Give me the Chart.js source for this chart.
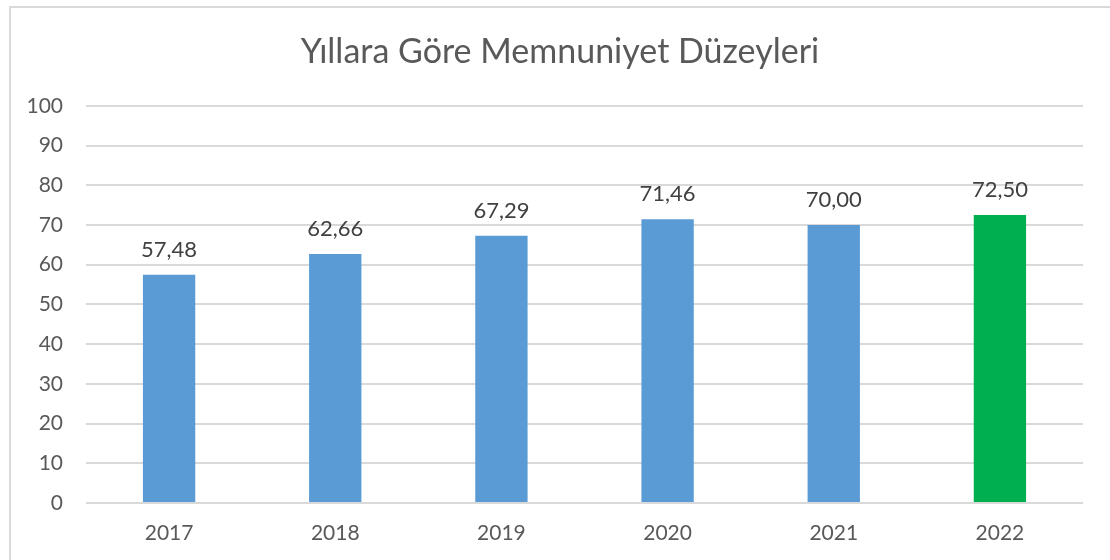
<!DOCTYPE html>
<html>
<head>
<meta charset="utf-8">
<script src="https://cdn.jsdelivr.net/npm/chart.js@4/dist/chart.umd.min.js"></script>
<style>
  body { margin: 0; background: #fff; }
  #frame { position: absolute; left: 9px; top: 6px; width: 1120px; height: 580px; border: 2px solid #d9d9d9; }
  #chart { position: absolute; left: 0; top: 0; }
</style>
</head>
<body>
<div id="frame"></div>
<canvas id="chart" width="1110" height="560"></canvas>
<script>
var yillar = ['2017', '2018', '2019', '2020', '2021', '2022'];
var memnuniyet = [57.48, 62.66, 67.29, 71.46, 70.00, 72.50];
var renkler = ['#5b9bd5', '#5b9bd5', '#5b9bd5', '#5b9bd5', '#5b9bd5', '#00b050'];

// etiketleri barların üstüne yaz
var etiketPlugin = {
  id: 'etiketler',
  afterLayout: function (chart) {
    // başlığı grafiğin ortasına kaydır
    chart.titleBlock.left = 37;
    chart.titleBlock.right = 1083;
  },
  afterDatasetsDraw: function (chart) {
    var ctx = chart.ctx;
    var meta = chart.getDatasetMeta(0);
    ctx.save();
    ctx.font = '22px Lato';
    ctx.fillStyle = '#404040';
    ctx.textAlign = 'center';
    ctx.textBaseline = 'middle';
    meta.data.forEach(function (bar, i) {
      var txt = memnuniyet[i].toFixed(2).replace('.', ',');
      ctx.fillText(txt, bar.x, bar.y - 25);
    });
    ctx.restore();
  }
};

var chart = new Chart(document.getElementById('chart'), {
  type: 'bar',
  data: {
    labels: yillar,
    datasets: [{
      data: memnuniyet,
      backgroundColor: renkler,
      barPercentage: 0.315,
      categoryPercentage: 1
    }]
  },
  options: {
    responsive: false,
    animation: false,
    layout: { padding: { left: 16, right: 27, top: 0, bottom: 0 } },
    plugins: {
      legend: { display: false },
      tooltip: { enabled: false },
      title: {
        display: true,
        text: 'Yıllara Göre Memnuniyet Düzeyleri',
        color: '#595959',
        font: { family: 'Lato', size: 34, weight: 'normal' },
        padding: { top: 32, bottom: 33 }
      }
    },
    scales: {
      x: {
        afterFit: function (scale) { scale.height = 57; },
        grid: { display: false, drawTicks: false },
        border: { display: false },
        ticks: { color: '#595959', font: { family: 'Lato', size: 21 }, padding: 18 }
      },
      y: {
        min: 0,
        max: 100,
        afterFit: function (scale) { scale.width = 70; },
        grid: { color: '#d9d9d9', lineWidth: 2, drawTicks: false },
        border: { display: false },
        ticks: { stepSize: 10, color: '#595959', font: { family: 'Lato', size: 21 }, padding: 23 }
      }
    }
  },
  plugins: [etiketPlugin]
});
</script>
</body>
</html>
